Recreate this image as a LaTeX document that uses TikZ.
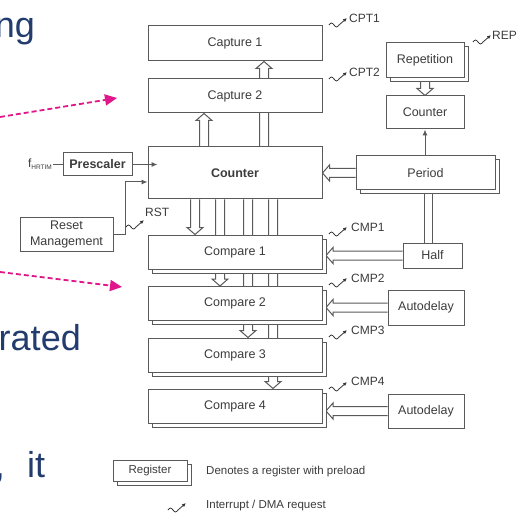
\documentclass[tikz,border=0pt]{standalone}
\usepackage{fontspec}
\setmainfont{Liberation Sans}
\usetikzlibrary{calc,arrows.meta,shadows,backgrounds}
\definecolor{ln}{HTML}{5A5A5A}
\definecolor{tx}{HTML}{3C3C3C}
\definecolor{navy}{HTML}{233C6E}
\definecolor{pinkc}{HTML}{E0168A}
\pgfdeclarelayer{bottom}
\pgfsetlayers{bottom,background,main}

\newcommand{\hollowarr}[2]{%
  \coordinate (hs) at (#1);
  \coordinate (he) at (#2);
  \coordinate (hb) at ($(he)!7pt!(hs)$);
  \draw[conn,fill=white] ($(hs)!4.5pt!90:(he)$) -- ($(hb)!4.5pt!90:(he)$) -- ($(hb)!8pt!90:(he)$) -- (he) -- ($(hb)!8pt!-90:(he)$) -- ($(hb)!4.5pt!-90:(he)$) -- ($(hs)!4.5pt!-90:(he)$);
}
\newcommand{\doubleln}[2]{%
  \coordinate (hs) at (#1);
  \coordinate (he) at (#2);
  \draw[conn] ($(hs)!4pt!90:(he)$) -- ($(he)!4pt!-90:(hs)$);
  \draw[conn] ($(hs)!4pt!-90:(he)$) -- ($(he)!4pt!90:(hs)$);
}

\tikzset{
  box/.style={draw=ln, line width=1pt, fill=white, text=tx, font=\fontsize{12.5}{15}\selectfont, inner sep=1pt},
  reg/.style={box, copy shadow={shadow xshift=4pt, shadow yshift=-4pt, draw=ln, fill=white, line width=1pt}},
  conn/.style={draw=ln, line width=1pt},
  arr/.style={conn, -{Latex[length=6pt,width=5pt]}},
  lbl/.style={text=tx, font=\fontsize{12}{14}\selectfont, inner sep=0pt},
  leg/.style={text=tx, font=\fontsize{11.5}{14}\selectfont, inner sep=0pt},
  big/.style={text=navy, font=\fontsize{36}{40}\selectfont, inner sep=0pt},
  pinkarr/.style={draw=pinkc, line width=1.8pt, dash pattern=on 5pt off 3pt, -{Triangle[length=12pt,width=11pt]}},
  irq/.pic={\draw[draw=black!80, line width=0.8pt, -{Latex[length=4pt,width=3.5pt]}] (0pt,0pt) sin (2.5pt,2pt) cos (5pt,0pt) sin (7.5pt,-2pt) cos (10pt,0pt) -- (18pt,7pt);}
}

\begin{document}
\begin{tikzpicture}[x=1pt,y=-1pt]
\begin{pgfonlayer}{bottom}
\path[fill=white, use as bounding box] (0,0) rectangle (527,513);
\end{pgfonlayer}
\useasboundingbox (0,0) rectangle (527,513);

% slide fragments
\node[big, anchor=base east] (t1) at (35,38) {ng};
\node[big, anchor=base east] (t2) at (81,350) {rated};
\node[big, anchor=base west] (t3) at (27,477) {it};
\node[big, anchor=base east] (t4) at (5,477) {,};
\coordinate (p1s) at (0,117);
\coordinate (p1e) at (117,98);
\coordinate (p2s) at (0,272);
\coordinate (p2e) at (122,287);
\draw[pinkarr] (p1s) -- (p1e);
\draw[pinkarr] (p2s) -- (p2e);

% main column
\node[box, minimum width=174pt, minimum height=35pt] (cap1) at (235,43.5) {Capture 1};
\node[box, minimum width=174pt, minimum height=34pt] (cap2) at (235,96) {Capture 2};
\node[box, minimum width=174pt, minimum height=52pt, font=\fontsize{12.5}{15}\selectfont\bfseries] (cnt) at (235,173) {Counter};
\node[reg, minimum width=174pt, minimum height=34pt] (cmp1) at (235,252) {Compare 1};
\node[reg, minimum width=174pt, minimum height=34pt] (cmp2) at (235,303.5) {Compare 2};
\node[reg, minimum width=174pt, minimum height=34pt] (cmp3) at (235,355) {Compare 3};
\node[reg, minimum width=174pt, minimum height=34pt] (cmp4) at (235,406) {Compare 4};

% right column
\node[reg, minimum width=78pt, minimum height=35pt] (rep) at (425,60.5) {Repetition};
\node[box, minimum width=78pt, minimum height=33pt] (cnt2) at (425,112.5) {Counter};
\node[reg, minimum width=139pt, minimum height=34pt] (per) at (425.5,173) {Period};
\node[box, minimum width=59pt, minimum height=25pt] (half) at (432.5,255.5) {Half};
\node[box, minimum width=76pt, minimum height=35pt] (ad1) at (426,307.5) {Autodelay};
\node[box, minimum width=76pt, minimum height=34pt] (ad2) at (426,411) {Autodelay};

% left column
\node[box, minimum width=69pt, minimum height=23pt, font=\fontsize{12.5}{15}\selectfont\bfseries] (pre) at (97.5,164.5) {Prescaler};
\node[box, minimum width=93pt, minimum height=34pt, align=center, font=\fontsize{12.5}{16}\selectfont] (rst) at (66.5,234) {Reset\\Management};
\node[text=tx, inner sep=1pt, anchor=east] (fhr) at (53,164) {{\fontsize{12}{14}\selectfont f}{\fontsize{6.5}{7}\selectfont\raisebox{-2.5pt}{HRTIM}}};

% legend
\node[reg, minimum width=74pt, minimum height=21pt, font=\fontsize{11.5}{14}\selectfont] (legreg) at (150,470.5) {Register};
\node[leg, anchor=west] (legt1) at (206,472) {Denotes a register with preload};
\node[leg, anchor=west] (legt2) at (206,506) {Interrupt / DMA request};
\pic at (168,510) {irq};

% interrupt labels
\pic at (329,25) {irq};
\node[lbl, anchor=west] (lcpt1) at (349,18) {CPT1};
\pic at (329,79) {irq};
\node[lbl, anchor=west] (lcpt2) at (349,72) {CPT2};
\pic at (473,42) {irq};
\node[lbl, anchor=west] (lrep) at (492,35) {REP};
\pic at (329,234) {irq};
\node[lbl, anchor=west] (lcmp1) at (351,227) {CMP1};
\pic at (329,285) {irq};
\node[lbl, anchor=west] (lcmp2) at (351,278) {CMP2};
\pic at (329,337) {irq};
\node[lbl, anchor=west] (lcmp3) at (351,330) {CMP3};
\pic at (329,389) {irq};
\node[lbl, anchor=west] (lcmp4) at (351,381) {CMP4};
\pic at (126,227) {irq};
\node[lbl, anchor=west] (lrst) at (145,212) {RST};

% column coordinates
\coordinate (xc1) at (264,0);
\coordinate (xc2) at (204,0);
\coordinate (xb1) at (195,0);
\coordinate (xb2) at (220,0);
\coordinate (xb3) at (248,0);
\coordinate (xb4) at (273,0);
\coordinate (xh) at (428,0);
\coordinate (redge) at (326,0);

\begin{pgfonlayer}{background}
  \hollowarr{cnt.north -| xc1}{cap1.south -| xc1}
  \hollowarr{cnt.north -| xc2}{cap2.south -| xc2}
  \hollowarr{cnt.south -| xb1}{cmp1.north -| xb1}
  \hollowarr{cnt.south -| xb2}{cmp2.north -| xb2}
  \hollowarr{cnt.south -| xb3}{cmp3.north -| xb3}
  \hollowarr{cnt.south -| xb4}{cmp4.north -| xb4}
  \hollowarr{rep.south}{cnt2.north}
  \hollowarr{per.west}{cnt.east}
  \hollowarr{half.west}{half.west -| redge}
  \hollowarr{ad1.west}{ad1.west -| redge}
  \hollowarr{ad2.west}{ad2.west -| redge}
  \doubleln{per.south -| xh}{half.north -| xh}
\end{pgfonlayer}

\draw[arr] (cnt2.south |- per.north) -- (cnt2.south);
\coordinate (pin) at (pre.east -| cnt.west);
\draw[arr] (pre.east) -- ($(pin)+(10,0)$);
\draw[conn] (fhr.east |- pre.west) -- (pre.west);
\draw[arr] (rst.east) -- ++(12,0) |- ($(cnt.west)+(0,9)$);
\end{tikzpicture}
\end{document}
